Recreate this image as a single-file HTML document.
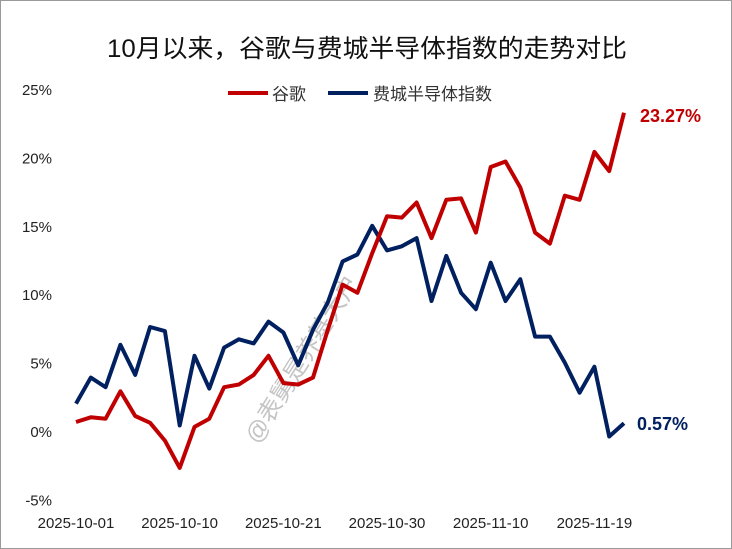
<!DOCTYPE html>
<html><head><meta charset="utf-8"><style>
html,body{margin:0;padding:0;background:#fff;}
svg{display:block;}
</style></head><body>
<svg id="chart" width="732" height="549" xmlns="http://www.w3.org/2000/svg" font-family="'Liberation Sans','Noto Sans CJK SC',sans-serif">
<rect x="0.5" y="0.5" width="731" height="548" fill="#fff" stroke="#9a9a9a"/>
<text x="107" y="57" textLength="520" lengthAdjust="spacingAndGlyphs" font-size="25" fill="#111">10月以来，谷歌与费城半导体指数的走势对比</text>
<g>
<line x1="228" y1="93" x2="268" y2="93" stroke="#c00000" stroke-width="4"/>
<text x="272" y="100" font-size="17" fill="#333">谷歌</text>
<line x1="328" y1="93" x2="368" y2="93" stroke="#002060" stroke-width="4"/>
<text x="373" y="100" font-size="17" fill="#333">费城半导体指数</text>
</g>
<g id="yaxis"></g>
<g id="xaxis"></g>
<text transform="translate(258,445) rotate(-58)" font-size="24" fill="#c4c4c4">@表舅是养基大户</text>
<g id="series"></g>
<text x="640" y="122" font-size="18" font-weight="bold" fill="#c00000">23.27%</text>
<text x="637" y="430" font-size="18" font-weight="bold" fill="#002060">0.57%</text>
</svg>
<script>
const googleValues=[0.66,1.0,0.9,2.9,1.1,0.6,-0.7,-2.7,0.3,0.9,3.2,3.4,4.1,5.5,3.5,3.4,3.9,7.4,10.7,10.1,13.0,15.7,15.6,16.7,14.1,16.9,17.0,14.5,19.3,19.7,17.8,14.5,13.7,17.2,16.9,20.4,19.0,23.27];
const soxValues=[2.0,3.9,3.2,6.3,4.1,7.6,7.3,0.4,5.5,3.1,6.1,6.7,6.4,8.0,7.2,4.8,7.4,9.4,12.4,12.9,15.0,13.2,13.5,14.1,9.5,12.8,10.1,8.9,12.3,9.5,11.1,6.9,6.9,5.0,2.8,4.7,-0.4,0.57];
const yTicks=[-5,0,5,10,15,20,25];
const xTickLabels=["2025-10-01","2025-10-10","2025-10-21","2025-10-30","2025-11-10","2025-11-19"];
const xTickIndex=[0,7,14,21,28,35];
const NS="http://www.w3.org/2000/svg";
function xPos(i){return 76+i*(548/37);}
function yPos(v){return 431-v*13.68;}
const ya=document.getElementById('yaxis');
yTicks.forEach(t=>{
 const el=document.createElementNS(NS,'text');
 
 
 el.setAttribute('x',52);el.setAttribute('y',yPos(t)+6);
 el.setAttribute('text-anchor','end');el.setAttribute('font-size','15');el.setAttribute('fill','#222');
 el.textContent=t+'%';ya.appendChild(el);
});
const xa=document.getElementById('xaxis');
xTickLabels.forEach((l,k)=>{
 const el=document.createElementNS(NS,'text');
 
 
 el.setAttribute('x',xPos(xTickIndex[k]));el.setAttribute('y',528);
 el.setAttribute('text-anchor','middle');el.setAttribute('font-size','15');el.setAttribute('fill','#222');
 el.textContent=l;xa.appendChild(el);
});
const sg=document.getElementById('series');
function line(vals,color,name){
 const p=document.createElementNS(NS,'polyline');
 
 
 p.setAttribute('points',vals.map((v,i)=>xPos(i).toFixed(1)+','+yPos(v).toFixed(1)).join(' '));
 p.setAttribute('fill','none');p.setAttribute('stroke',color);p.setAttribute('stroke-width','4');p.setAttribute('stroke-linejoin','round');
 sg.appendChild(p);
}
line(soxValues,'#002060','sox-line');
line(googleValues,'#c00000','google-line');
</script>
</body></html>
